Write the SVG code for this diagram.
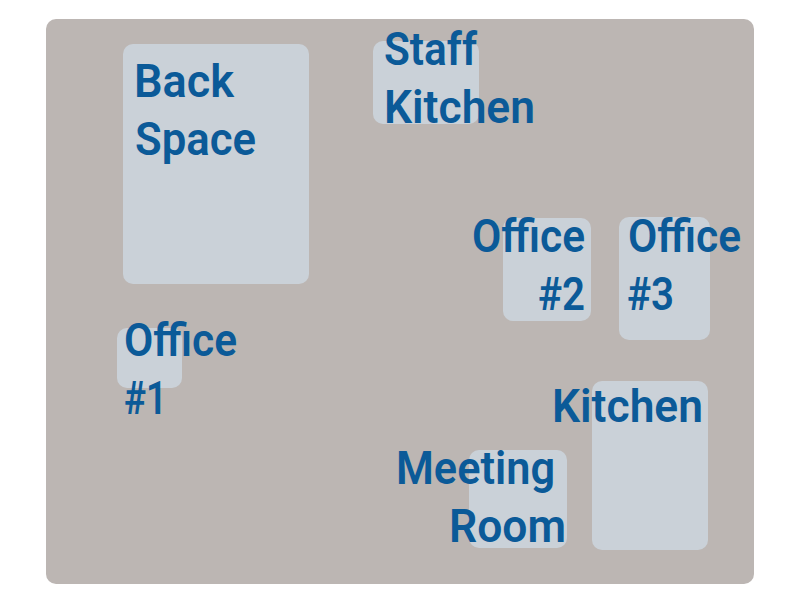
<svg xmlns="http://www.w3.org/2000/svg" width="800" height="600" viewBox="0 0 800 600">
<style>
.bg{fill:#bcb6b3}
.room{fill:#cad1d8}
text{font-family:Roboto,"Noto Sans",sans-serif;font-size:47px;font-weight:600;fill:#0b5a98}
</style>
<rect width="800" height="600" fill="#ffffff"/>
<rect class="bg" x="46" y="19" width="708" height="565" rx="10"/>
<g id="back-space"><rect class="room" x="123" y="44" width="186" height="240" rx="10"/><text x="134" y="97" textLength="100" lengthAdjust="spacingAndGlyphs">Back</text><text x="135" y="155" textLength="121" lengthAdjust="spacingAndGlyphs">Space</text></g>
<g id="staff-kitchen"><rect class="room" x="373" y="41" width="106" height="83" rx="10"/><text x="384" y="65" textLength="93" lengthAdjust="spacingAndGlyphs">Staff</text><text x="384" y="123" textLength="151" lengthAdjust="spacingAndGlyphs">Kitchen</text></g>
<g id="office-2"><rect class="room" x="503" y="218" width="88" height="103" rx="10"/><text x="472" y="252" textLength="113" lengthAdjust="spacingAndGlyphs">Office</text><text x="538" y="310" textLength="47" lengthAdjust="spacingAndGlyphs">#2</text></g>
<g id="office-3"><rect class="room" x="619" y="217" width="91" height="123" rx="10"/><text x="628" y="252" textLength="113" lengthAdjust="spacingAndGlyphs">Office</text><text x="627" y="310" textLength="47" lengthAdjust="spacingAndGlyphs">#3</text></g>
<g id="office-1"><rect class="room" x="117" y="328" width="65" height="60" rx="10"/><text x="124" y="356" textLength="113" lengthAdjust="spacingAndGlyphs">Office</text><text x="124" y="414" textLength="43" lengthAdjust="spacingAndGlyphs">#1</text></g>
<g id="kitchen"><rect class="room" x="592" y="381" width="116" height="169" rx="10"/><text x="552" y="422" textLength="151" lengthAdjust="spacingAndGlyphs">Kitchen</text></g>
<g id="meeting-room"><rect class="room" x="469" y="450" width="98" height="98" rx="10"/><text x="396" y="484" textLength="159" lengthAdjust="spacingAndGlyphs">Meeting</text><text x="449" y="542" textLength="117" lengthAdjust="spacingAndGlyphs">Room</text></g>
</svg>
